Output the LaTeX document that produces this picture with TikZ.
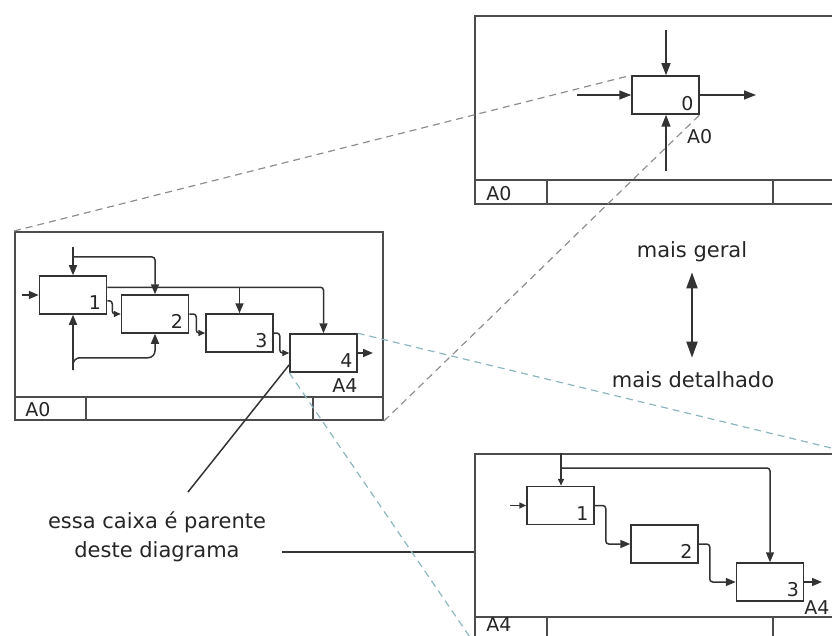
\documentclass[tikz,border=0pt]{standalone}
\usepackage{fontspec}
\setmainfont{DejaVu Sans}
\usetikzlibrary{positioning,calc,arrows.meta}
\definecolor{ink}      {HTML}{333333}
\definecolor{textink}  {HTML}{262626}
\definecolor{frameink} {HTML}{4C4C4C}
\definecolor{dashgray} {HTML}{8E8E8E}
\definecolor{dashteal} {HTML}{8DB6BE}
\tikzset{
  % --- nodes
  bar/.style   = {draw=frameink, line width=2pt},
  cell/.style  = {draw=frameink, line width=1.2pt},
  frame/.style = {bar, inner sep=0pt, anchor=north west},
  box/.style   = {draw=ink, line width=1.5pt, inner sep=0pt, minimum width=67pt,
                  minimum height=38pt},
  num/.style   = {font=\fontsize{19}{19}\selectfont, text=textink, inner sep=0pt,
                  anchor=south east},
  ref/.style   = {font=\fontsize{19}{19}\selectfont, text=textink, inner sep=0pt},
  note/.style  = {font=\fontsize{21}{29}\selectfont, text=textink, align=center, inner sep=0pt},
  % --- edges
  e/.style     = {-{Triangle[length=12pt,width=9pt]}, line width=1.5pt, draw=ink,
                  rounded corners=3pt},
  es/.style    = {e, -{Triangle[length=10pt,width=8pt]}},
  et/.style    = {e, -{Triangle[length=7pt,width=6pt]}},
  dbl/.style   = {{Triangle[length=16pt,width=11pt]}-{Triangle[length=16pt,width=11pt]},
                  line width=2pt, draw=ink},
  lead/.style  = {line width=1.5pt, draw=ink},
  dl/.style    = {dash pattern=on 7pt off 5pt, line width=1.2pt, draw=dashgray},
  dc/.style    = {dl, draw=dashteal},
}
\begin{document}
\begin{tikzpicture}[x=1pt,y=-1pt]
  \clip (0,0) rectangle (832,636);
  % --- frames
  \node[frame, minimum width=376pt, minimum height=188pt] (fT) at (474,15) {};
  \node[frame, minimum width=368pt, minimum height=188pt] (fL) at (14,231) {};
  \node[frame, minimum width=376pt, minimum height=188pt] (fB) at (474,453) {};
  \draw[bar] (474,180) -- (850,180);
  \draw[cell] (547,180) -- (547,203) (773,180) -- (773,203);
  \draw[bar] (14,397) -- (382,397);
  \draw[cell] (86,397) -- (86,419) (313,397) -- (313,419);
  \draw[bar] (474,617) -- (850,617);
  \draw[cell] (547,617) -- (547,641) (773,617) -- (773,641);
  \node[ref] (fTid) at (499,194) {A0};
  \node[ref] (fLid) at (38,410) {A0};
  \node[ref] (fBid) at (499,625) {A4};

  % --- top: context box
  \node[box] (b0) at (665.5,95) {};
  \node[num] (b0n) at ($(b0.south east)+(-6,-4)$) {0};
  \node[ref, anchor=north] (b0ref) at ($(b0.south east)+(0,14)$) {A0};
  \coordinate (b0c) at (666,30);
  \coordinate (b0i) at (577,95);
  \coordinate (b0o) at (756,95);
  \coordinate (b0m) at (666,171);
  \draw[e] (b0c) -- (b0c |- b0.north);
  \draw[e] (b0i) -- (b0.west);
  \draw[e] (b0.east) -- (b0o);
  \draw[e] (b0m) -- (b0m |- b0.south);

  % --- left: A0 decomposition
  \node[box] (b1) at (73,295) {};
  \node[box] (b2) at (155,314) {};
  \node[box] (b3) at (239.5,333) {};
  \node[box] (b4) at (323.5,353) {};
  \node[num] (b1n) at ($(b1.south east)+(-6,-5)$) {1};
  \node[num] (b2n) at ($(b2.south east)+(-6,-5)$) {2};
  \node[num] (b3n) at ($(b3.south east)+(-6,-5)$) {3};
  \node[num] (b4n) at ($(b4.south east)+(-5,-5)$) {4};
  \node[ref, anchor=north east] (b4ref) at ($(b4.south east)+(0,6)$) {A4};
  \coordinate (l1c) at (73,247);
  \coordinate (l1j) at (73,257);
  \coordinate (l1i) at (22,295);
  \coordinate (l1o) at ($(b1.north east)+(0,12)$);
  \coordinate (l1x) at (373,353);
  \coordinate (l1m) at (73,370);
  \draw[es] (l1c) -- (l1c |- b1.north);
  \draw[es] (l1j) -| (b2.north);
  \draw[es] (l1i) -- (b1.west);
  \draw[es] (l1o) -| (b4.north);
  \draw[es] (l1o -| b3.north) -- (b3.north);
  \draw[et] ($(b1.south east)+(0,-14)$) -- ++(5,0) |- (b2.west);
  \draw[et] (b2.east) -- ++(7,0) |- (b3.west);
  \draw[et] (b3.east) -- ++(6,0) |- (b4.west);
  \draw[es] (b4.east) -- (l1x);
  \draw[es] (l1m) -- (b1.south);
  \draw[es, rounded corners=7pt] (l1m) |- ($(b2.south)+(0,24)$) -- (b2.south);

  % --- bottom: A4 decomposition
  \node[box] (c1) at (560.5,505.5) {};
  \node[box] (c2) at (664.5,544) {};
  \node[box] (c3) at (770,582) {};
  \node[num] (c1n) at ($(c1.south east)+(-6,-5)$) {1};
  \node[num] (c2n) at ($(c2.south east)+(-6,-5)$) {2};
  \node[num] (c3n) at ($(c3.south east)+(-5,-5)$) {3};
  \node[ref, anchor=north west] (c3ref) at ($(c3.south east)+(0,-1)$) {A4};
  \coordinate (r1c) at (561,453);
  \coordinate (r1j) at (561,468);
  \coordinate (r1i) at (510,505.5);
  \coordinate (r1x) at (822,582);
  \draw[et] (r1c) -- (r1c |- c1.north);
  \draw[es] (r1j) -| (c3.north);
  \draw[et] (r1i) -- (c1.west);
  \draw[es] (c1.east) -- ++(11,0) |- (c2.west);
  \draw[es] (c2.east) -- ++(11,0) |- (c3.west);
  \draw[es] (c3.east) -- (r1x);

  % --- middle labels
  \node[note] (gen) at (692,252) {mais geral};
  \node[note] (det) at (693,380) {mais detalhado};
  \draw[dbl] ($(gen.south)+(0,10)$) -- ($(gen.south |- det.north)+(0,-14)$);

  \node[note] (par) at (157,537) {essa caixa é parente\\deste diagrama};
  \coordinate (parA) at (188,492);
  \coordinate (parB) at (282,552);
  \draw[lead] ($(b4.south west)+(0,-8)$) -- (parA);
  \draw[lead] (parB) -- (parB -| fB.west);

  % --- zoom guides
  \draw[dl] (fL.north west) -- (b0.north west);
  \draw[dl] (fL.south east) -- (b0.south east);
  \draw[dc] (b4.north east) -- (fB.north east);
  \draw[dc] (b4.south west) -- (fB.south west);
\end{tikzpicture}
\end{document}
